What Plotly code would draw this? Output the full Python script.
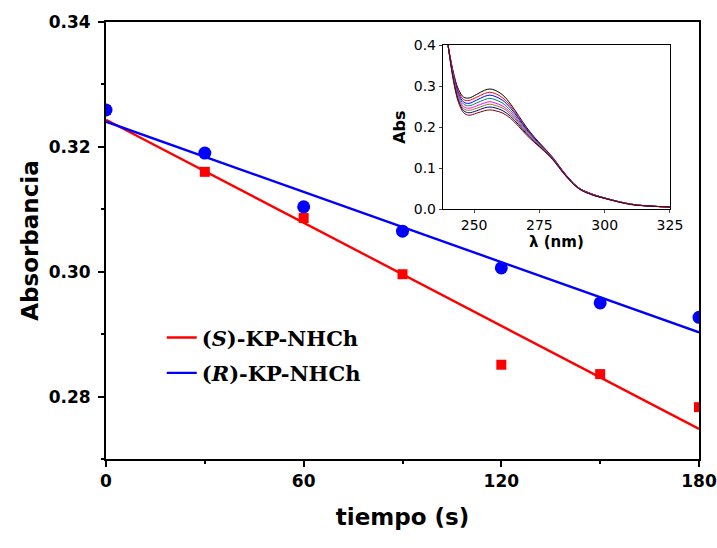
import numpy as np
import plotly.graph_objects as go

# ---- main kinetics data ----
tiempo = [0, 30, 60, 90, 120, 150, 180]
abs_S = [0.3259, 0.3160, 0.3086, 0.2996, 0.2851, 0.2836, 0.2783]
abs_R = [0.3259, 0.3190, 0.3104, 0.3065, 0.3006, 0.2950, 0.2927]
label_S = "<b>(<i>S</i>)-KP-NHCh</b>"
label_R = "<b>(<i>R</i>)-KP-NHCh</b>"

# ---- inset spectra ----
wl = [240, 242, 244, 246, 248, 251, 254, 256, 258, 261, 264, 267, 270, 273, 276, 280, 285, 290, 295, 300, 310, 318, 325]
spec_black = [0.400, 0.335, 0.292, 0.273, 0.271, 0.280, 0.290, 0.293, 0.290, 0.278, 0.256, 0.228, 0.200, 0.176, 0.155, 0.127, 0.085, 0.052, 0.037, 0.027, 0.012, 0.007, 0.005]
spec_red = [0.400, 0.332, 0.287, 0.267, 0.265, 0.273, 0.282, 0.285, 0.282, 0.271, 0.251, 0.224, 0.197, 0.174, 0.154, 0.126, 0.084, 0.052, 0.037, 0.027, 0.012, 0.007, 0.005]
spec_blue = [0.400, 0.330, 0.282, 0.261, 0.258, 0.266, 0.275, 0.278, 0.275, 0.265, 0.246, 0.221, 0.195, 0.173, 0.153, 0.125, 0.084, 0.052, 0.037, 0.027, 0.012, 0.007, 0.005]
spec_teal = [0.400, 0.327, 0.277, 0.256, 0.252, 0.259, 0.267, 0.270, 0.267, 0.258, 0.240, 0.217, 0.192, 0.171, 0.152, 0.125, 0.083, 0.051, 0.036, 0.027, 0.012, 0.007, 0.005]
spec_magenta = [0.400, 0.324, 0.272, 0.250, 0.246, 0.252, 0.259, 0.262, 0.259, 0.251, 0.235, 0.213, 0.189, 0.169, 0.150, 0.124, 0.083, 0.051, 0.036, 0.026, 0.012, 0.007, 0.005]
spec_olive = [0.400, 0.321, 0.268, 0.245, 0.241, 0.246, 0.253, 0.256, 0.253, 0.246, 0.231, 0.210, 0.187, 0.167, 0.149, 0.123, 0.082, 0.051, 0.036, 0.026, 0.012, 0.007, 0.005]
spec_navy = [0.400, 0.318, 0.264, 0.240, 0.235, 0.240, 0.247, 0.249, 0.247, 0.240, 0.226, 0.206, 0.184, 0.165, 0.147, 0.122, 0.082, 0.050, 0.035, 0.026, 0.011, 0.007, 0.005]
spec_wine = [0.400, 0.315, 0.260, 0.235, 0.229, 0.234, 0.240, 0.242, 0.240, 0.234, 0.221, 0.202, 0.181, 0.163, 0.146, 0.121, 0.081, 0.050, 0.035, 0.026, 0.011, 0.007, 0.005]
spectra = [spec_black, spec_red, spec_blue, spec_teal, spec_magenta, spec_olive, spec_navy, spec_wine]
spec_colors = ["#000000", "#FF0000", "#0000FF", "#008080", "#FF00FF", "#808000", "#000080", "#800000"]

AX_FONT = "DejaVu Sans, Arial, sans-serif"
LEG_FONT = "DejaVu Serif, Times New Roman, serif"

fig = go.Figure()

t_arr = np.array(tiempo, dtype=float)
t_line = np.array([tiempo[0], tiempo[-1]], dtype=float)
for vals, color, name, grp in [(abs_S, "#FF0000", label_S, "S"), (abs_R, "#0000FF", label_R, "R")]:
    m, b = np.polyfit(t_arr, np.array(vals), 1)
    fig.add_trace(go.Scatter(x=t_line, y=m * t_line + b, mode="lines",
                             line=dict(color=color, width=2.4), name=name, legendgroup=grp,
                             xaxis="x", yaxis="y"))

fig.add_trace(go.Scatter(x=tiempo, y=abs_S, mode="markers", showlegend=False,
                         marker=dict(symbol="square", size=10, color="#FF0000"),
                         xaxis="x", yaxis="y"))
fig.add_trace(go.Scatter(x=tiempo, y=abs_R, mode="markers", showlegend=False,
                         marker=dict(symbol="circle", size=13, color="#0000FF"),
                         xaxis="x", yaxis="y"))

for vals, color in zip(spectra, spec_colors):
    fig.add_trace(go.Scatter(x=wl, y=vals, mode="lines", showlegend=False,
                             line=dict(color=color, width=1, shape="spline"),
                             xaxis="x2", yaxis="y2"))

fig.update_layout(
    width=717, height=548,
    margin=dict(l=106, r=18, t=22, b=89),
    paper_bgcolor="white", plot_bgcolor="white",
    xaxis=dict(domain=[0, 1], range=[0, 180], tickvals=[0, 60, 120, 180], automargin=False,
               ticks="outside", ticklen=6, tickwidth=2, tickcolor="black",
               minor=dict(ticks="outside", ticklen=3, tickwidth=2, tickcolor="black", dtick=30, tick0=0),
               showline=True, linewidth=2, linecolor="black", mirror=True,
               showgrid=False, zeroline=False,
               tickfont=dict(family=AX_FONT, size=17, color="black", weight="bold"),
               title=dict(text="tiempo (s)", standoff=18,
                          font=dict(family=AX_FONT, size=23, color="black", weight="bold"))),
    yaxis=dict(domain=[0, 1], range=[0.27, 0.34], dtick=0.02, tick0=0, tickformat=".2f",
               automargin=False, ticklabelstandoff=4,
               ticks="outside", ticklen=6, tickwidth=2, tickcolor="black",
               minor=dict(ticks="outside", ticklen=3, tickwidth=2, tickcolor="black", dtick=0.01, tick0=0),
               showline=True, linewidth=2, linecolor="black", mirror=True,
               showgrid=False, zeroline=False,
               tickfont=dict(family=AX_FONT, size=17, color="black", weight="bold"),
               title=dict(text="Absorbancia", standoff=4,
                          font=dict(family=AX_FONT, size=23, color="black", weight="bold"))),
    xaxis2=dict(domain=[0.568, 0.951], anchor="y2", range=[238, 325], automargin=False,
                tickvals=[250, 275, 300, 325], ticks="outside", ticklen=3, tickwidth=1,
                showline=True, linewidth=1, linecolor="black", mirror=True,
                showgrid=False, zeroline=False,
                tickfont=dict(family=AX_FONT, size=14, color="black"),
                title=dict(text="λ (nm)", standoff=1,
                           font=dict(family=AX_FONT, size=15, color="black", weight="bold"))),
    yaxis2=dict(domain=[0.572, 0.947], anchor="x2", range=[0, 0.4], automargin=False,
                dtick=0.1, tickformat=".1f", ticks="outside", ticklen=3, tickwidth=1,
                showline=True, linewidth=1, linecolor="black", mirror=True,
                showgrid=False, zeroline=False,
                tickfont=dict(family=AX_FONT, size=14, color="black"),
                title=dict(text="Abs", standoff=4,
                           font=dict(family=AX_FONT, size=16, color="black", weight="bold"))),
    legend=dict(x=0.094, y=0.324, xanchor="left", yanchor="top",
                traceorder="grouped", tracegroupgap=5,
                bgcolor="rgba(0,0,0,0)", borderwidth=0,
                font=dict(family=LEG_FONT, size=21, color="black")),
    showlegend=True,
)

fig.write_html("out.html")
